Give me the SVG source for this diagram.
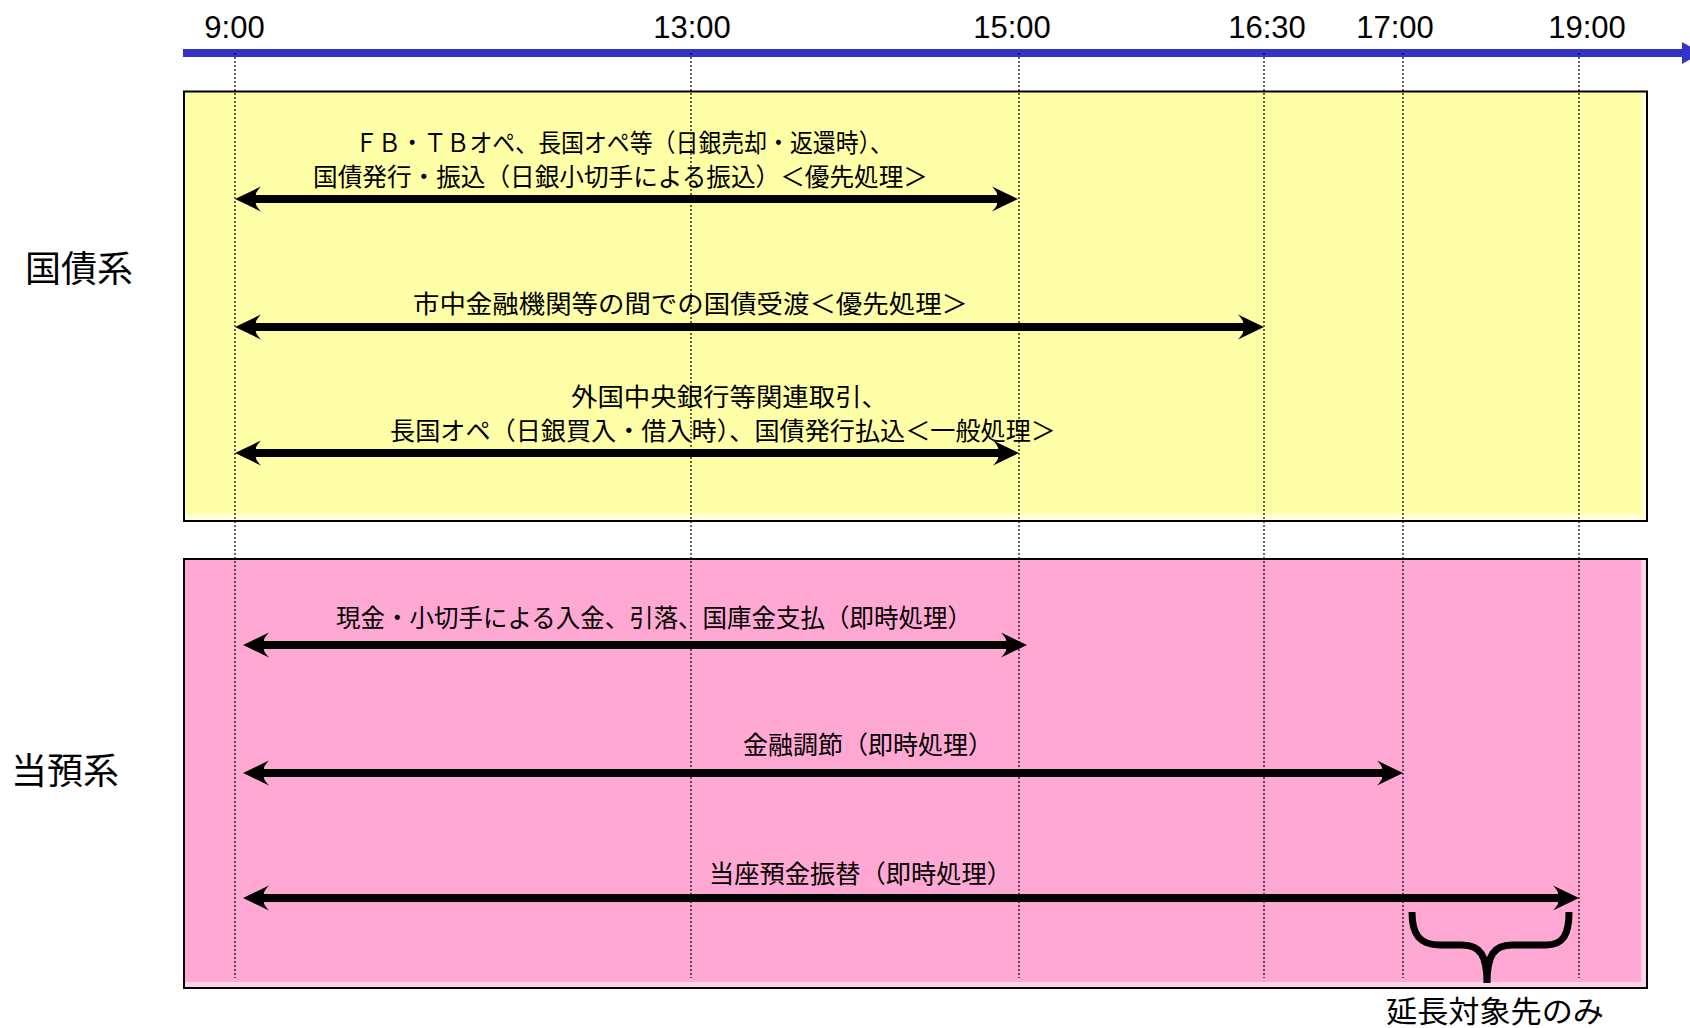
<svg xmlns="http://www.w3.org/2000/svg" width="1690" height="1028" viewBox="0 0 1690 1028">
<style>
.t{font-family:"Liberation Sans",Arial,sans-serif;font-size:31px;fill:#000;text-anchor:middle}
.j{font-family:"Noto Sans CJK JP","Noto Sans CJK SC",sans-serif;font-size:25px;fill:#000}
.h{font-family:"Noto Sans CJK JP","Noto Sans CJK SC",sans-serif;font-size:36px;fill:#000}
.n{font-family:"Noto Sans CJK JP","Noto Sans CJK SC",sans-serif;font-size:30px;fill:#000}
.dot{stroke:#000;stroke-width:1.2;stroke-dasharray:2 2;fill:none}
.arr{stroke:#000;stroke-width:8;fill:none;marker-start:url(#ah);marker-end:url(#ah)}
</style>
<defs>
<marker id="ah" markerUnits="userSpaceOnUse" viewBox="-10 -14 30 28" markerWidth="30" markerHeight="28" refX="0" refY="0" orient="auto-start-reverse" overflow="visible">
<path d="M18,0 L-8,-12.5 Q-2,-6 -3,-4 L-3,4 Q-2,6 -8,12.5 Z" fill="#000"/>
</marker>
</defs>
<rect width="1690" height="1028" fill="#fff"/>
<g id="timeline">
<rect x="183" y="49" width="1502" height="8" fill="#3333cc"/>
<polygon points="1682,42 1682,64 1702,53" fill="#3333cc"/>
<text class="t" x="234.5" y="38">9:00</text>
<text class="t" x="692" y="38">13:00</text>
<text class="t" x="1012" y="38">15:00</text>
<text class="t" x="1267" y="38">16:30</text>
<text class="t" x="1395" y="38">17:00</text>
<text class="t" x="1587" y="38">19:00</text>
</g>
<g id="kokusai-box">
<rect x="184" y="91.5" width="1463" height="429.5" fill="#ffffa8" stroke="#000" stroke-width="2"/>
<rect x="1641" y="93" width="5" height="427" fill="#ffffd8"/>
<rect x="185" y="514" width="1461" height="6" fill="#ffffd8"/>
</g>
<g id="touyo-box">
<rect x="184" y="559" width="1463" height="429" fill="#ffa8d3" stroke="#000" stroke-width="2"/>
<rect x="1641" y="560" width="5" height="427" fill="#ffd3ea"/>
<rect x="185" y="982" width="1461" height="5" fill="#ffd3ea"/>
</g>
<g id="gridlines">
<line class="dot" x1="235" y1="53" x2="235" y2="978"/>
<line class="dot" x1="691" y1="53" x2="691" y2="978"/>
<line class="dot" x1="1019" y1="53" x2="1019" y2="978"/>
<line class="dot" x1="1264" y1="53" x2="1264" y2="978"/>
<line class="dot" x1="1403" y1="53" x2="1403" y2="978"/>
<line class="dot" x1="1579" y1="53" x2="1579" y2="978"/>
</g>
<g id="section-labels">
<text class="h" x="25" y="282">国債系</text>
<text class="h" x="11" y="784">当預系</text>
</g>
<g id="connectors">
<line class="arr" x1="253" y1="199" x2="1000" y2="199"/>
<line class="arr" x1="253" y1="327" x2="1246" y2="327"/>
<line class="arr" x1="253" y1="453" x2="1001" y2="453"/>
<line class="arr" x1="261" y1="645" x2="1009" y2="645"/>
<line class="arr" x1="261" y1="773" x2="1385" y2="773"/>
<line class="arr" x1="261" y1="898" x2="1561" y2="898"/>
</g>
<g id="arrow-labels">
<text class="j" x="355" y="152" textLength="538" lengthAdjust="spacingAndGlyphs">ＦＢ・ＴＢオペ、長国オペ等（日銀売却・返還時）、</text>
<text class="j" x="313" y="186" textLength="615" lengthAdjust="spacingAndGlyphs">国債発行・振込（日銀小切手による振込）＜優先処理＞</text>
<text class="j" x="413" y="313" textLength="555" lengthAdjust="spacingAndGlyphs">市中金融機関等の間での国債受渡＜優先処理＞</text>
<text class="j" x="571" y="406" textLength="317" lengthAdjust="spacingAndGlyphs">外国中央銀行等関連取引、</text>
<text class="j" x="390" y="440" textLength="666" lengthAdjust="spacingAndGlyphs">長国オペ（日銀買入・借入時）、国債発行払込＜一般処理＞</text>
<text class="j" x="336" y="627" textLength="636" lengthAdjust="spacingAndGlyphs">現金・小切手による入金、引落、国庫金支払（即時処理）</text>
<text class="j" x="743" y="754" textLength="250" lengthAdjust="spacingAndGlyphs">金融調節（即時処理）</text>
<text class="j" x="709" y="883" textLength="303" lengthAdjust="spacingAndGlyphs">当座預金振替（即時処理）</text>
</g>
<g id="extension-brace">
<path d="M1412,912 C1412,935 1420,945 1440,945 L1462,945 C1480,945 1487,955 1487,983 M1487,983 C1487,955 1494,945 1512,945 L1546,945 C1563,945 1569,935 1569,912" fill="none" stroke="#000" stroke-width="7" stroke-linejoin="round"/>
<text class="n" x="1386" y="1022" textLength="218" lengthAdjust="spacingAndGlyphs">延長対象先のみ</text>
</g>
</svg>
